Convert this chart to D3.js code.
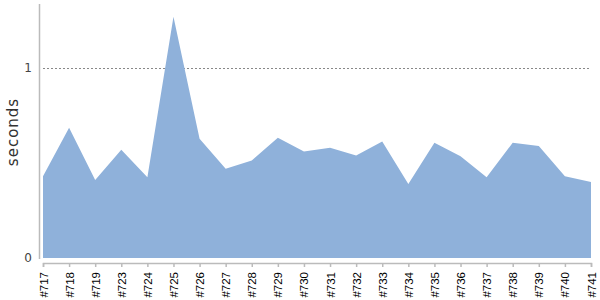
<!DOCTYPE html>
<html>
<head>
<meta charset="utf-8">
<script src="https://cdn.jsdelivr.net/npm/d3@7"></script>
<style>
  body { margin: 0; background: #fff; }
  svg { display: block; }
</style>
</head>
<body>
<div id="chart"></div>
<script>
// build ids along x, and how long each took
var builds = ["#717", "#718", "#719", "#723", "#724", "#725", "#726", "#727", "#728", "#729", "#730",
              "#731", "#732", "#733", "#734", "#735", "#736", "#737", "#738", "#739", "#740", "#741"];
var seconds = [0.43, 0.685, 0.41, 0.57, 0.425, 1.27, 0.628, 0.47, 0.513, 0.633, 0.56,
               0.58, 0.54, 0.613, 0.39, 0.607, 0.535, 0.425, 0.607, 0.59, 0.43, 0.40];
var yTicks = [0, 1];

var width = 600, height = 300;
var margin = {top: 4, right: 9, bottom: 42, left: 43};

var svg = d3.select("#chart").append("svg")
    .attr("width", width)
    .attr("height", height);

var x = d3.scalePoint()
    .domain(builds)
    .range([margin.left, width - margin.right]);

var y = d3.scaleLinear()
    .domain([0, 1.337])
    .range([height - margin.bottom, margin.top]);

// dotted guide at 1 second
svg.append("line")
    .attr("class", "guide")
    .attr("x1", margin.left)
    .attr("x2", width - margin.right)
    .attr("y1", Math.round(y(1)) + 0.5)
    .attr("y2", Math.round(y(1)) + 0.5)
    .attr("stroke", "#888")
    .attr("stroke-width", 1)
    .attr("stroke-dasharray", "2,2");

var area = d3.area()
    .x(function (d, i) { return x(builds[i]); })
    .y0(y(0))
    .y1(function (d) { return y(d); });

svg.append("path")
    .datum(seconds)
    .attr("d", area)
    .attr("fill", "#8fb1da");

// y axis
var yAxisX = margin.left - 3.5;
svg.append("line")
    .attr("x1", yAxisX).attr("x2", yAxisX)
    .attr("y1", margin.top).attr("y2", y(0) + 1)
    .attr("stroke", "#bbb")
    .attr("stroke-width", 1.5);

svg.selectAll("text.ytick")
    .data(yTicks)
    .enter().append("text")
    .attr("class", "ytick")
    .attr("x", 32)
    .attr("y", function (d) { return y(d); })
    .attr("dy", "0.35em")
    .attr("text-anchor", "end")
    .attr("font-family", "DejaVu Sans, sans-serif")
    .attr("font-size", 12)
    .attr("fill", "#444")
    .text(function (d) { return d; });

svg.append("text")
    .attr("transform", "translate(18," + ((margin.top + y(0)) / 2 + 1) + ") rotate(-90)")
    .attr("text-anchor", "middle")
    .attr("font-family", "DejaVu Sans, sans-serif")
    .attr("font-size", 15)
    .attr("letter-spacing", 1)
    .attr("fill", "#333")
    .text("seconds");

// x axis
var xAxis = d3.axisBottom(x).tickSize(4).tickPadding(4);
var gx = svg.append("g")
    .attr("transform", "translate(0," + (y(0) + 5) + ")")
    .call(xAxis);
gx.select(".domain").attr("stroke", "#bbb").attr("stroke-width", 1.5);
gx.selectAll(".tick line").attr("stroke", "#bbb").attr("stroke-width", 1.5);
gx.selectAll(".tick text")
    .attr("font-family", "Liberation Sans, Arial, sans-serif")
    .attr("font-size", 11.5)
    .attr("fill", "#000")
    .attr("text-anchor", "end")
    .attr("transform", "rotate(-90)")
    .attr("x", -9)
    .attr("y", 0)
    .attr("dy", "0.35em");
</script>
</body>
</html>
